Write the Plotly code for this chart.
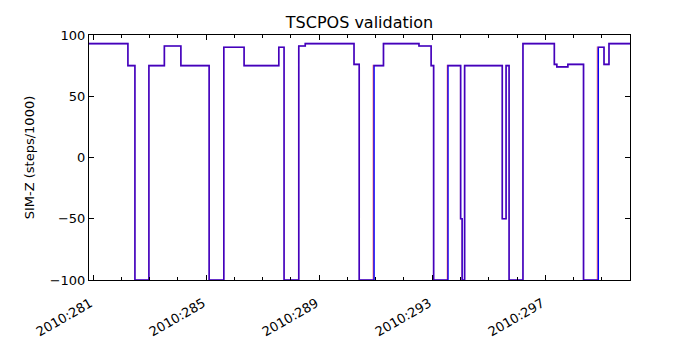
import plotly.graph_objects as go

# day-of-year 2010 for each step change, and the level after it (SIM-Z steps/1000)
tlm_days = [280.85, 282.227, 282.475, 282.970, 283.518, 284.102, 285.103, 285.622,
            286.340, 287.568, 287.755, 288.275, 288.505, 290.231, 290.415, 290.938,
            291.274, 292.530, 292.961, 293.049, 293.555, 294.005, 294.058, 294.146,
            295.479, 295.614, 295.720, 296.211, 297.322, 297.410, 297.800, 298.355,
            298.875, 299.080, 299.256, 300.0]
tlm_vals = [93, 75, -100, 75, 91, 75, -100, 90,
            75, 90, -100, 91, 93, 76, -100, 75,
            93, 91, 75, -100, 75, -50, -100, 75,
            -50, 75, -100, 93, 76, 74, 76, -100,
            90, 76, 93, 93]

model_days = [280.85, 282.227, 282.475, 282.970, 283.518, 284.102, 285.103, 285.622,
              286.340, 287.568, 287.755, 288.275, 288.505, 290.231, 290.415, 290.903,
              291.274, 292.530, 292.961, 293.049, 293.530, 294.000, 294.050, 294.146,
              295.479, 295.614, 295.720, 296.211, 297.322, 297.410, 297.800, 298.355,
              298.840, 299.080, 299.256, 300.0]
model_vals = [93, 75, -100, 75, 91, 75, -100, 90,
              75, 90, -100, 91, 93, 76, -100, 75,
              93, 91, 75, -100, 75, -50, -100, 75,
              -50, 75, -100, 93, 76, 74, 76, -100,
              90, 76, 93, 93]

x_tickvals = [281, 285, 289, 293, 297]
x_ticktext = ["2010:281", "2010:285", "2010:289", "2010:293", "2010:297"]
y_tickvals = [-100, -50, 0, 50, 100]
y_ticktext = ["\u2212100", "\u221250", "0", "50", "100"]

fig = go.Figure()
fig.add_trace(go.Scatter(x=tlm_days, y=tlm_vals, mode="lines", line_shape="hv",
                         line=dict(color="blue", width=1.6), showlegend=False))
fig.add_trace(go.Scatter(x=model_days, y=model_vals, mode="lines", line_shape="hv",
                         line=dict(color="rgba(255,0,0,0.28)", width=1.6), showlegend=False))

# the page body adds an 8px margin, so the figure is 8px smaller on each axis
W, H = 692, 342
font = "DejaVu Sans, sans-serif"
fig.update_layout(
    width=W, height=H,
    margin=dict(l=81, r=70, t=27, b=70, autoexpand=False),
    plot_bgcolor="white", paper_bgcolor="white",
    font=dict(family=font, size=13, color="black"),
    title=dict(text="TSCPOS validation", x=0.5, xref="paper", y=1 - 14 / H,
               yref="container", yanchor="middle", automargin=False,
               font=dict(size=16)),
    xaxis=dict(
        range=[280.85, 300.0], automargin=False,
        tickmode="array", tickvals=x_tickvals, ticktext=x_ticktext,
        tickangle=-30, tickfont=dict(size=13),
        ticklabelshift=-3, ticklabelstandoff=10,
        ticks="inside", ticklen=5, tickcolor="black",
        minor=dict(tickmode="linear", tick0=281, dtick=1, ticks="inside",
                   ticklen=3, tickcolor="black"),
        showline=True, linecolor="black", linewidth=1, mirror="ticks",
        showgrid=False, zeroline=False,
    ),
    yaxis=dict(
        range=[-100, 100], automargin=False,
        tickmode="array", tickvals=y_tickvals, ticktext=y_ticktext,
        tickfont=dict(size=13),
        ticks="inside", ticklen=5, tickcolor="black",
        showline=True, linecolor="black", linewidth=1, mirror="ticks",
        showgrid=False, zeroline=False,
        title=dict(text="SIM-Z (steps/1000)", standoff=12, font=dict(size=13)),
    ),
)

fig.write_html("out.html")
